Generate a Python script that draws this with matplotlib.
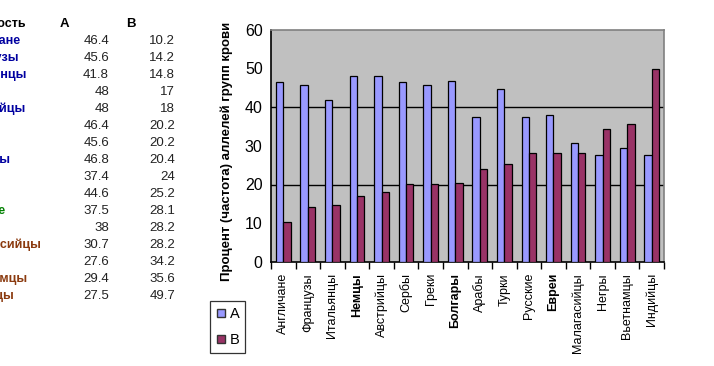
import numpy as np
import matplotlib.pyplot as plt
from matplotlib.lines import Line2D

# Data
nations = ['Англичане', 'Французы', 'Итальянцы', 'Немцы', 'Австрийцы', 'Сербы',
           'Греки', 'Болгары', 'Арабы', 'Турки', 'Русские', 'Евреи',
           'Малагасийцы', 'Негры', 'Вьетнамцы', 'Индийцы']
val_a = [46.4, 45.6, 41.8, 48, 48, 46.4, 45.6, 46.8, 37.4, 44.6, 37.5, 38,
         30.7, 27.6, 29.4, 27.5]
val_b = [10.2, 14.2, 14.8, 17, 18, 20.2, 20.2, 20.4, 24, 25.2, 28.1, 28.2,
         28.2, 34.2, 35.6, 49.7]
name_colors = ['#0000a0'] * 8 + ['#008000'] * 4 + ['#8b3a0f'] * 4
bold_labels = ['Немцы', 'Болгары', 'Евреи']

plt.rcParams['font.family'] = ['Liberation Sans', 'DejaVu Sans']

W, H = 714, 366
fig = plt.figure(figsize=(W / 100, H / 100), dpi=100)

def fx(px):
    return px / W

def fy(py):
    return 1 - py / H

# Spreadsheet part on the left (column A is cut off by the window edge)
fig.text(fx(-80), fy(24), 'Национальность', fontsize=9, fontweight='bold',
         va='center', ha='left')
fig.text(fx(60), fy(24), 'A', fontsize=9.5, fontweight='bold', va='center', ha='left')
fig.text(fx(126), fy(24), 'B', fontsize=9.5, fontweight='bold', va='center', ha='left')
for i, name in enumerate(nations):
    y = fy(41 + 17 * i)
    fig.text(fx(-45), y, name, fontsize=9, fontweight='bold', color=name_colors[i],
             va='center', ha='left')
    fig.text(fx(109), y, f'{val_a[i]:g}', fontsize=9.5, color='#222222',
             va='center', ha='right')
    fig.text(fx(175), y, f'{val_b[i]:g}', fontsize=9.5, color='#222222',
             va='center', ha='right')

# Chart
ax = fig.add_axes([fx(271), fy(262), fx(664) - fx(271), fy(29.5) - fy(262)])
ax.set_facecolor('#c0c0c0')
x = np.arange(len(nations))
w = 0.3
ax.bar(x - w / 2, val_a, w, color='#9999ff', edgecolor='black', linewidth=0.9, zorder=3)
ax.bar(x + w / 2, val_b, w, color='#993366', edgecolor='black', linewidth=0.9, zorder=3)

ax.set_xlim(-0.5, len(nations) - 0.5)
ax.set_ylim(0, 60)
for g in [20, 40]:
    ax.axhline(g, color='black', linewidth=1, zorder=1)

ax.spines['left'].set_color('black')
ax.spines['bottom'].set_color('black')
ax.spines['top'].set_color('#808080')
ax.spines['right'].set_color('#808080')
for s in ax.spines.values():
    s.set_linewidth(1.2)

ax.set_yticks(np.arange(0, 61, 10))
ax.set_yticklabels([str(v) for v in range(0, 61, 10)], fontsize=11.5)
ax.tick_params(axis='y', length=0, pad=6)
ax.set_yticks([0, 20, 40, 60], minor=True)
ax.tick_params(axis='y', which='minor', length=5, width=1, direction='out')

ax.set_xticks(x)
ax.set_xticklabels(nations, rotation=90, fontsize=9, va='top')
for lbl in ax.get_xticklabels():
    if lbl.get_text() in bold_labels:
        lbl.set_fontweight('bold')
ax.tick_params(axis='x', length=0, pad=8)
ax.set_xticks(np.arange(-0.5, len(nations)), minor=True)
ax.tick_params(axis='x', which='minor', length=5, width=1, direction='out')

ax.set_ylabel('Процент (частота) аллелей групп крови', fontsize=9.5,
              fontweight='bold')
ax.yaxis.set_label_coords(-0.097, 0.477)

handles = [Line2D([], [], linestyle='none', marker='s', markersize=5.5,
                  markerfacecolor='#9999ff', markeredgecolor='#333333'),
           Line2D([], [], linestyle='none', marker='s', markersize=5.5,
                  markerfacecolor='#993366', markeredgecolor='#333333')]
leg = fig.legend(handles, ['A', 'B'], loc='center',
                 bbox_to_anchor=(fx(227.5), fy(327)), fontsize=10.5,
                 frameon=True, fancybox=False, edgecolor='black',
                 handlelength=0.7, handletextpad=0.25, labelspacing=0.8,
                 borderpad=0.4, borderaxespad=0)
leg.get_frame().set_linewidth(0.9)

fig.savefig('out.png', dpi=100)
